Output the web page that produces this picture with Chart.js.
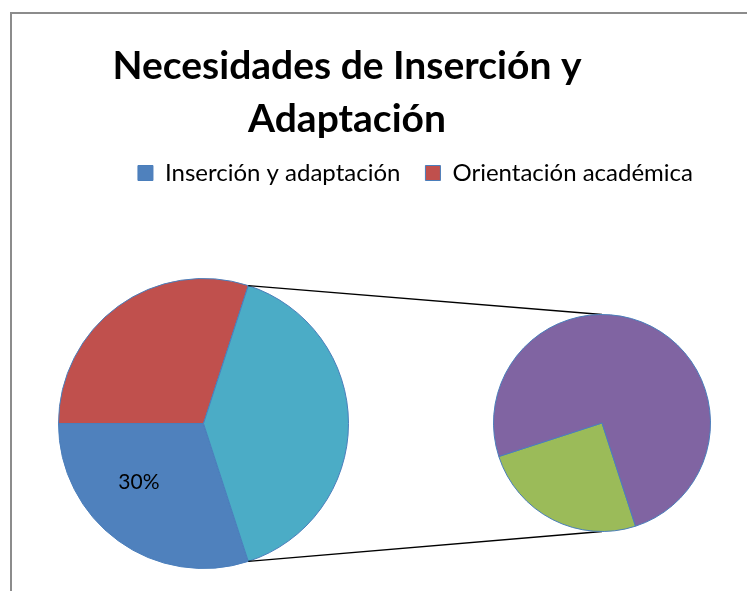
<!DOCTYPE html>
<html>
<head>
<meta charset="utf-8">
<script src="https://cdn.jsdelivr.net/npm/chart.js@4.4.1/dist/chart.umd.min.js"></script>
<style>
  html, body { margin: 0; padding: 0; background: #fff; width: 747px; height: 591px; overflow: hidden; }
  #frame { position: absolute; left: 10px; top: 12px; width: 800px; height: 700px; border: 2px solid #8c8c8c; box-sizing: border-box; }
  canvas { position: absolute; left: 0; top: 0; }
</style>
</head>
<body>
<div id="frame"></div>
<canvas id="mainPie" width="747" height="591"></canvas>
<canvas id="secondPie" width="747" height="591"></canvas>
<script>
// ---- data ----
const titleLines = ['Necesidades de Inserción y', 'Adaptación'];
const mainLabels = ['Inserción y adaptación', 'Orientación académica', 'Otros'];
const mainValues = [30, 30, 40];
const mainColors = ['#4F81BD', '#C0504D', '#4BACC6'];
const secondLabels = ['Otros 1', 'Otros 2'];
const secondValues = [10, 30];
const secondColors = ['#9BBB59', '#8064A2'];
const legendCount = 2;            // entries visible in the legend
const labelShown = [true, false, false]; // percentage label visible per main slice

// ---- plugins ----
const pieArea = {
  id: 'pieArea',
  afterLayout(chart, args, opts) {
    const s = opts.size;
    chart.chartArea = {
      left: opts.cx - s / 2, top: opts.cy - s / 2,
      right: opts.cx + s / 2, bottom: opts.cy + s / 2,
      width: s, height: s
    };
  }
};

const pctLabel = {
  id: 'pctLabel',
  afterDatasetsDraw(chart, args, opts) {
    const meta = chart.getDatasetMeta(0);
    const vals = chart.data.datasets[0].data;
    const total = vals.reduce((a, b) => a + b, 0);
    const ctx = chart.ctx;
    meta.data.forEach((arc, i) => {
      if (!labelShown[i]) return;
      const p = arc.getProps(['x', 'y', 'startAngle', 'endAngle', 'outerRadius'], true);
      const a = p.startAngle + (p.endAngle - p.startAngle) * opts.angleFrac;
      const r = p.outerRadius * opts.radiusFrac;
      ctx.save();
      ctx.font = opts.font;
      ctx.fillStyle = '#000';
      ctx.textAlign = 'center';
      ctx.textBaseline = 'middle';
      ctx.fillText(Math.round(vals[i] / total * 100) + '%', p.x + Math.cos(a) * r, p.y + Math.sin(a) * r);
      ctx.restore();
    });
  }
};

function build() {
  Chart.defaults.color = '#000';

  const mainChart = new Chart(document.getElementById('mainPie'), {
    type: 'pie',
    data: {
      labels: mainLabels,
      datasets: [{
        data: mainValues,
        backgroundColor: mainColors,
        borderColor: '#4A7EBB',
        borderWidth: 1
      }]
    },
    options: {
      responsive: false,
      animation: false,
      rotation: 162,
      layout: { padding: { left: -24, right: 29, top: 0, bottom: 0 } },
      plugins: {
        tooltip: { enabled: false },
        title: {
          display: true,
          text: titleLines,
          color: '#000',
          font: { family: 'Lato', weight: 'bold', size: 39, lineHeight: '53px' },
          padding: { top: 39.5, bottom: -9.5 }
        },
        legend: {
          display: true,
          position: 'top',
          align: 'end',
          labels: {
            color: '#000',
            font: { family: 'Lato', size: 24 },
            boxWidth: 15,
            boxHeight: 15,
            padding: 25,
            filter: (item) => item.index < legendCount
          }
        },
        pieArea: { cx: 203.5, cy: 423.5, size: 291 },
        pctLabel: { angleFrac: 0.61, radiusFrac: 0.6, font: '21px Lato' }
      }
    },
    plugins: [pieArea, pctLabel]
  });

  const connector = {
    id: 'connector',
    beforeDatasetsDraw(chart) {
      const src = mainChart.getDatasetMeta(0).data[2].getProps(['x', 'y', 'startAngle', 'endAngle', 'outerRadius'], true);
      const dst = chart.getDatasetMeta(0).data[0].getProps(['x', 'y', 'outerRadius'], true);
      const ctx = chart.ctx;
      ctx.save();
      ctx.strokeStyle = '#000';
      ctx.lineWidth = 1.4;
      ctx.beginPath();
      ctx.moveTo(src.x + Math.cos(src.startAngle) * src.outerRadius, src.y + Math.sin(src.startAngle) * src.outerRadius);
      ctx.lineTo(dst.x, dst.y - dst.outerRadius);
      ctx.moveTo(src.x + Math.cos(src.endAngle) * src.outerRadius, src.y + Math.sin(src.endAngle) * src.outerRadius);
      ctx.lineTo(dst.x, dst.y + dst.outerRadius);
      ctx.stroke();
      ctx.restore();
    }
  };

  new Chart(document.getElementById('secondPie'), {
    type: 'pie',
    data: {
      labels: secondLabels,
      datasets: [{
        data: secondValues,
        backgroundColor: secondColors,
        borderColor: '#4A7EBB',
        borderWidth: 1
      }]
    },
    options: {
      responsive: false,
      animation: false,
      rotation: 162,
      layout: { padding: { left: 493, top: 314, right: 36, bottom: 59 } },
      plugins: {
        tooltip: { enabled: false },
        legend: { display: false },
        title: { display: false }
      }
    },
    plugins: [connector]
  });
}

Promise.all([
  document.fonts.load('bold 39px Lato'),
  document.fonts.load('24px Lato')
]).then(build, build);
</script>
</body>
</html>
